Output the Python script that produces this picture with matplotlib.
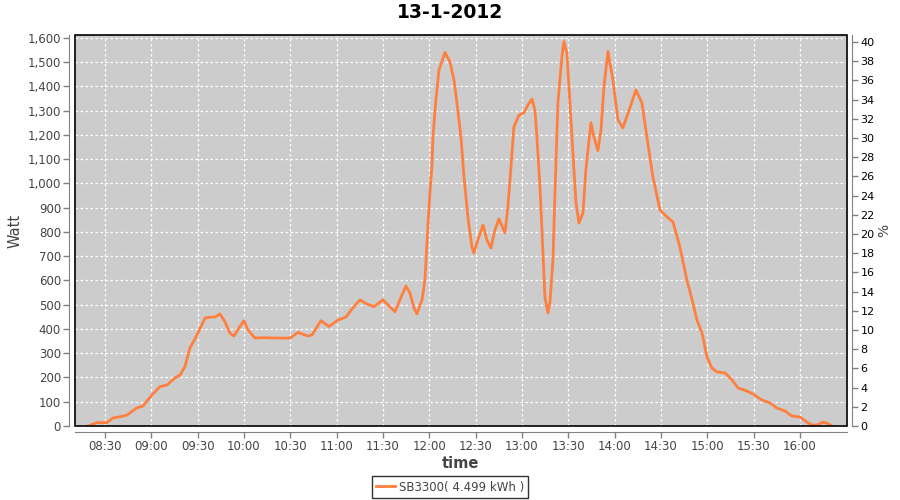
import matplotlib
matplotlib.use("Agg")
import matplotlib.pyplot as plt
from matplotlib.patches import Rectangle
from matplotlib.ticker import FuncFormatter

# minutes after 08:00 and power in watt
minutes = [19.0, 24.8, 31.3, 35.2, 39.7, 44.2, 50.7, 54.6, 60.4, 65.6,
           70.1, 75.3, 78.6, 81.8, 85.0, 89.6, 94.8, 98.0, 101.2, 104.5,
           107.7, 110.9, 113.5, 117.4, 120.0, 122.6, 127.1, 133.6, 140.1, 149.8,
           155.0, 161.4, 164.0, 169.9, 175.0, 180.9, 186.0, 189.9, 195.1, 199.6,
           204.2, 210.0, 214.5, 217.8, 221.0, 224.9, 227.5, 230.1, 232.0, 235.3,
           237.2, 239.1, 240.4, 241.7, 242.4, 244.3, 246.3, 250.2, 253.4, 256.0,
           257.9, 260.5, 262.5, 265.0, 267.6, 268.9, 271.5, 274.8, 277.3, 279.9,
           282.5, 285.1, 289.0, 290.9, 292.9, 294.8, 298.1, 301.3, 303.9, 306.5,
           308.4, 309.7, 311.7, 313.6, 314.9, 316.8, 318.1, 320.1, 321.4, 323.3,
           325.9, 327.2, 329.1, 331.1, 333.0, 335.0, 336.9, 339.5, 341.4, 344.7,
           346.6, 349.2, 351.2, 353.1, 355.7, 358.9, 362.2, 365.4, 369.9, 373.8,
           377.7, 380.9, 384.8, 389.4, 393.9, 397.8, 402.3, 406.8, 410.7, 413.3,
           416.6, 419.8, 423.0, 426.3, 431.5, 436.0, 439.9, 445.7, 449.6, 455.4,
           460.6, 465.1, 470.3, 474.8, 480.0, 484.5, 487.8, 491.0, 494.9, 497.5,
           500.7]
watt = [0, 14, 14, 33, 38, 45, 75, 82, 128, 162,
        169, 198, 210, 245, 321, 375, 445, 449, 449, 462,
        430, 383, 371, 410, 434, 396, 363, 364, 363, 362,
        386, 371, 375, 434, 410, 437, 449, 482, 520, 503,
        492, 520, 492, 471, 520, 577, 548, 487, 462, 520,
        602, 821, 961, 1068, 1192, 1344, 1468, 1540, 1502, 1427,
        1332, 1192, 1027, 862, 738, 713, 767, 829, 767, 734,
        808, 854, 796, 903, 1068, 1233, 1282, 1291, 1324, 1348,
        1303, 1192, 986, 713, 532, 466, 507, 685, 961, 1332,
        1522, 1585, 1538, 1332, 1126, 920, 837, 878, 1056, 1251,
        1192, 1135, 1221, 1398, 1544, 1427, 1262, 1229, 1311, 1386,
        1332, 1192, 1027, 891, 862, 841, 738, 602, 507, 437,
        384, 285, 239, 223, 219, 190, 157, 144, 132, 107,
        95, 74, 62, 41, 37, 16, 4, 4, 16, 12,
        0]

tick_minutes = list(range(30, 481, 30))
tick_labels = ["08:30", "09:00", "09:30", "10:00", "10:30", "11:00", "11:30", "12:00",
               "12:30", "13:00", "13:30", "14:00", "14:30", "15:00", "15:30", "16:00"]
watt_ticks = list(range(0, 1601, 100))
pct_ticks = list(range(0, 41, 2))

title = "13-1-2012"
series_label = "SB3300( 4.499 kWh )"

LINE_COLOR = "#FF7F3F"
BG_COLOR = "#CCCCCC"
AXIS_GRAY = "#808080"
TEXT_GRAY = "#444444"

plt.rcParams['font.family'] = ['DejaVu Sans']

fig = plt.figure(figsize=(9, 5), dpi=100)
ax = fig.add_axes([0.0833, 0.148, 0.8575, 0.782])
ax.set_facecolor(BG_COLOR)

line, = ax.plot(minutes, watt, color=LINE_COLOR, linewidth=2, label=series_label,
                solid_joinstyle="round")

ax.set_xlim(10.6, 510.3)
ax.set_ylim(0, 1612)
ax.set_xticks(tick_minutes)
ax.set_xticklabels(tick_labels)
ax.set_yticks(watt_ticks)
ax.yaxis.set_major_formatter(FuncFormatter(lambda v, p: "{:,}".format(int(v))))

ax.grid(True, color="white", linestyle=(0, (2, 2)), linewidth=0.9)
ax.set_axisbelow(True)

# right axis in percent
ax2 = ax.twinx()
ax2.set_ylim(0, 40.73)
ax2.set_yticks(pct_ticks)

# axis lines offset from plot, black plot outline
for a in (ax, ax2):
  for s in a.spines.values():
    s.set_visible(False)
  a.tick_params(colors=AXIS_GRAY, labelcolor=TEXT_GRAY, labelsize=8.5, length=4,
                width=1, pad=2)

ax.spines['left'].set_visible(True)
ax.spines['left'].set_position(('outward', 4))
ax.spines['left'].set_color(AXIS_GRAY)
ax.spines['bottom'].set_visible(True)
ax.spines['bottom'].set_position(('outward', 4))
ax.spines['bottom'].set_color(AXIS_GRAY)
ax2.spines['right'].set_visible(True)
ax2.spines['right'].set_position(('outward', 4))
ax2.spines['right'].set_color(AXIS_GRAY)
ax2.tick_params(labelcolor="black", labelsize=8)

ax.add_patch(Rectangle((0, 0), 1, 1, transform=ax.transAxes, fill=False,
                       edgecolor="black", linewidth=1.2, clip_on=False, zorder=5))

ax.set_ylabel("Watt", fontsize=10.5, color=TEXT_GRAY, labelpad=4)
ax.set_xlabel("time", fontsize=10.5, color=TEXT_GRAY, fontweight="bold", labelpad=2)
ax2.set_ylabel("%", fontsize=10, color=TEXT_GRAY, labelpad=2)

fig.suptitle(title, fontsize=13.5, fontweight="bold", y=0.995)

leg = fig.legend(handles=[line], loc="center", bbox_to_anchor=(0.5, 0.026),
                 fontsize=8.5, frameon=True, fancybox=False, handlelength=1.6,
                 handletextpad=0.3, borderpad=0.35, borderaxespad=0)
leg.get_frame().set_edgecolor("black")
leg.get_frame().set_linewidth(1)
for t in leg.get_texts():
  t.set_color(TEXT_GRAY)

fig.savefig("out.png", dpi=100)
